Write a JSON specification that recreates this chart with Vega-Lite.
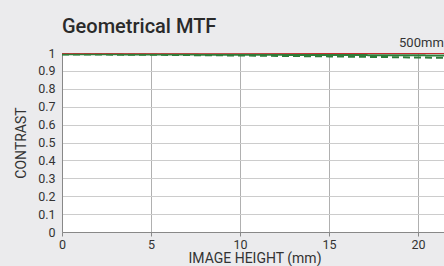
{
  "$schema": "https://vega.github.io/schema/vega-lite/v6.json",
  "width": 385,
  "height": 179,
  "autosize": {"type": "none"},
  "padding": {"left": 62, "top": 53, "right": 0, "bottom": 34},
  "background": "#ebebed",
  "title": {"text": "Geometrical MTF", "anchor": "start", "frame": "group", "font": "Roboto", "fontSize": 20, "fontWeight": 500, "color": "#2a2a2a", "offset": 0},
  "config": {
    "view": {"fill": "white", "stroke": null},
    "font": "Roboto"
  },
  "datasets": {
    "mtf": [
      {"h": 0, "v": 0.992, "s": "M30"}, {"h": 5, "v": 0.99, "s": "M30"}, {"h": 10, "v": 0.986, "s": "M30"}, {"h": 15, "v": 0.981, "s": "M30"}, {"h": 20, "v": 0.975, "s": "M30"}, {"h": 21.63, "v": 0.973, "s": "M30"},
      {"h": 0, "v": 0.993, "s": "S30"}, {"h": 5, "v": 0.992, "s": "S30"}, {"h": 10, "v": 0.99, "s": "S30"}, {"h": 15, "v": 0.989, "s": "S30"}, {"h": 20, "v": 0.987, "s": "S30"}, {"h": 21.63, "v": 0.986, "s": "S30"},
      {"h": 0, "v": 1.0, "s": "S10"}, {"h": 5, "v": 1.0, "s": "S10"}, {"h": 10, "v": 1.0, "s": "S10"}, {"h": 15, "v": 0.999, "s": "S10"}, {"h": 20, "v": 0.999, "s": "S10"}, {"h": 21.63, "v": 0.999, "s": "S10"}
    ]
  },
  "encoding": {
    "x": {"field": "h", "type": "quantitative", "scale": {"domain": [0, 21.63], "nice": false},
      "axis": {"values": [0, 5, 10, 15, 20], "title": "IMAGE HEIGHT (mm)", "titleFont": "Roboto", "titleFontSize": 14, "titleFontWeight": "normal", "titleColor": "#333", "titlePadding": 1, "labelFont": "Roboto", "labelFontSize": 12.5, "labelColor": "#333", "labelPadding": 2, "gridColor": "#b0b0b0", "gridWidth": 1, "domainColor": "#888", "tickColor": "#888", "tickSize": 4, "labelFlush": false, "labelOverlap": false}},
    "y": {"field": "v", "type": "quantitative", "scale": {"domain": [0, 1], "nice": false},
      "axis": {"values": [0, 0.1, 0.2, 0.3, 0.4, 0.5, 0.6, 0.7, 0.8, 0.9, 1], "format": "~g", "title": "CONTRAST", "titleFont": "Roboto", "titleFontSize": 14, "titleFontWeight": "normal", "titleColor": "#333", "titlePadding": 9, "labelFont": "Roboto", "labelFontSize": 12.5, "labelColor": "#333", "labelPadding": 7, "labelOverlap": false, "gridColor": "#cccccc", "gridWidth": 1, "domainColor": "#888", "ticks": false}}
  },
  "layer": [
    {
      "data": {"name": "mtf"},
      "transform": [{"filter": "datum.s !== 'S10'"}],
      "mark": {"type": "line", "strokeWidth": 2, "clip": true, "color": "#2e7d3a"},
      "encoding": {
        "strokeDash": {"field": "s", "type": "nominal", "scale": {"domain": ["S30", "M30"], "range": [[1, 0], [7, 4]]}, "legend": null}
      }
    },
    {
      "data": {"name": "mtf"},
      "transform": [{"filter": "datum.s === 'S10'"}],
      "mark": {"type": "line", "strokeWidth": 1.6, "clip": true, "color": "#c62a2f"},
      "encoding": {}
    },
    {
      "data": {"values": [{"h": 21.45, "v": 1, "label": "500mm"}]},
      "mark": {"type": "text", "align": "right", "baseline": "bottom", "dy": -3, "font": "Roboto", "fontSize": 13, "color": "#333"},
      "encoding": {
        "text": {"field": "label"}
      }
    }
  ]
}
